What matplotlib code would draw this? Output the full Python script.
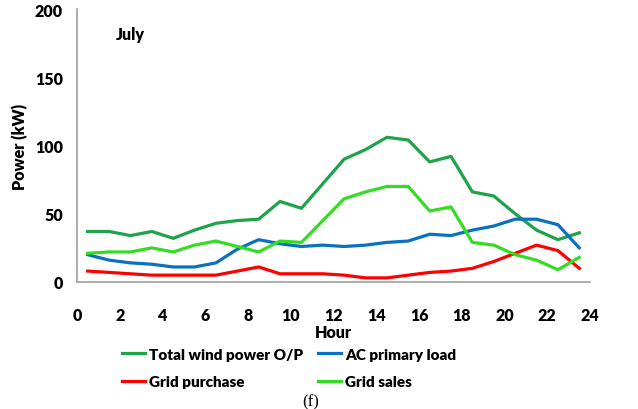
import numpy as np
import matplotlib.pyplot as plt

hours = np.arange(0.5, 24, 1.0)

total_wind = [37, 37, 34, 37, 32, 38, 43, 45, 46, 59, 54, 72,
              90, 97, 106, 104, 88, 92, 66, 63, 50, 38, 31, 36]
ac_load = [20, 16, 14, 13, 11, 11, 14, 24, 31, 28, 26, 27,
           26, 27, 29, 30, 35, 34, 38, 41, 46, 46, 42, 25]
grid_purchase = [8, 7, 6, 5, 5, 5, 5, 8, 11, 6, 6, 6,
                 5, 3, 3, 5, 7, 8, 10, 15, 21, 27, 23, 10]
grid_sales = [21, 22, 22, 25, 22, 27, 30, 26, 22, 30, 29, 45,
              61, 66, 70, 70, 52, 55, 29, 27, 20, 16, 9, 18]

plt.rcParams['font.family'] = ['Lato', 'DejaVu Sans']
plt.rcParams['font.weight'] = 'bold'

fig = plt.figure(figsize=(6.38, 4.10), dpi=100)
ax = fig.add_axes([0.1207, 0.3098, 0.804, 0.6658])

lw = 2.3
ax.plot(hours, total_wind, color='#1FA24A', lw=lw, label='Total wind power O/P', solid_joinstyle='round')
ax.plot(hours, grid_purchase, color='#FF0000', lw=lw, label='Grid purchase', solid_joinstyle='round')
ax.plot(hours, ac_load, color='#0A70C0', lw=lw, label='AC primary load', solid_joinstyle='round')
ax.plot(hours, grid_sales, color='#33DD22', lw=lw, label='Grid sales', solid_joinstyle='round')

ax.set_xlim(0, 24)
ax.set_ylim(0, 200)
ax.set_xticks(range(0, 25, 2))
ax.set_yticks(range(0, 201, 50))
ax.tick_params(axis='both', length=0, labelsize=11.5)
ax.tick_params(axis='x', pad=18)
ax.tick_params(axis='y', pad=10)
for lab in ax.get_xticklabels() + ax.get_yticklabels():
    lab.set_fontweight('heavy')

for s in ['top', 'right']:
    ax.spines[s].set_visible(False)
for s in ['left', 'bottom']:
    ax.spines[s].set_color('#A0A0A0')
    ax.spines[s].set_linewidth(1.2)

ax.set_xlabel('Hour', fontsize=11.5, fontweight='heavy', labelpad=1)
ax.set_ylabel('Power (kW)', fontsize=11.5, fontweight='heavy', labelpad=5)

ax.text(1.8, 182, 'July', fontsize=11.5, fontweight='heavy', ha='left', va='center')

leg = fig.legend(loc='center', bbox_to_anchor=(0.453, 0.10), ncol=2, frameon=False,
                 prop={'size': 11, 'weight': 'heavy'}, handlelength=1.5,
                 handletextpad=0.25, columnspacing=1.0, labelspacing=0.95)

fig.text(0.487, 0.0, '(f)', fontsize=12, family='Liberation Serif',
         fontweight='normal', ha='center', va='bottom')

fig.savefig('out.png', dpi=100)
